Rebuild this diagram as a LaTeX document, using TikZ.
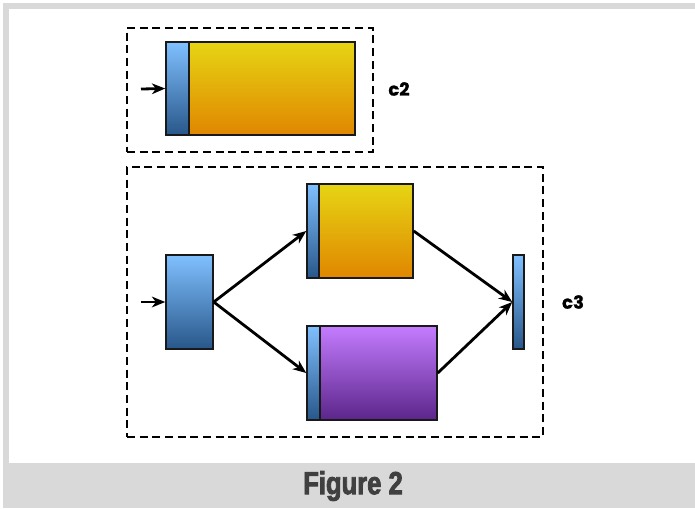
\documentclass[tikz,border=0pt]{standalone}
\usepackage{fontspec}
\setmainfont{Liberation Sans}
\newfontfamily\tagfont[FakeBold=1.2]{Poppins}
\newfontfamily\capfont[FakeStretch=0.8,FakeBold=2.5]{Liberation Sans}
\usetikzlibrary{arrows.meta, positioning, fit}
\definecolor{frame_gray}{HTML}{D9D9D9}
\definecolor{cap_text}{HTML}{404040}
\definecolor{blue_top}{HTML}{80C0FF}
\definecolor{blue_bot}{HTML}{28578A}
\definecolor{gold_top}{HTML}{E6D514}
\definecolor{gold_bot}{HTML}{E08600}
\definecolor{violet_top}{HTML}{C47CFF}
\definecolor{violet_bot}{HTML}{5B258A}
\tikzset{
    blk_blue/.style={
        rectangle, draw=black!90, line width=1.1pt, inner sep=0pt,
        top color=blue_top, bottom color=blue_bot
    },
    blk_gold/.style={
        rectangle, draw=black!90, line width=1.1pt, inner sep=0pt,
        top color=gold_top, bottom color=gold_bot
    },
    blk_violet/.style={
        rectangle, draw=black!90, line width=1.1pt, inner sep=0pt,
        top color=violet_top, bottom color=violet_bot
    },
    group_box/.style={
        rectangle, draw=black, line width=1pt, inner sep=0pt,
        dash pattern=on 6pt off 3.5pt
    },
    flow_arrow/.style={
        -{Stealth[length=10pt, width=8pt, inset=3pt]}, line width=2.1pt, draw=black
    },
    group_tag/.style={
        font=\tagfont\bfseries\fontsize{13.5}{16}\selectfont, text=black
    }
}
\begin{document}
\begin{tikzpicture}[x=0.75pt, y=-0.75pt]

    \useasboundingbox (0,0) rectangle (695,508);

    % --- Frame & caption band ---
    \fill[frame_gray] (3,3) rectangle (695,508);
    \fill[white] (9,9) rectangle (695,463);
    \node[text=cap_text, font=\capfont\bfseries\fontsize{24}{28}\selectfont] (caption) at (353,486) {Figure 2};

    % --- Group c2 ---
    \node[group_box, fit={(127,28) (373,152)}] (c2box) {};
    \node[group_tag] (c2tag) at (399,89) {c2};
    \node[blk_blue, fit={(166,42) (189,135)}] (c2in) {};
    \node[blk_gold, fit={(189,42) (355,135)}] (c2body) {};
    \coordinate (c2src) at (141,89);

    % --- Group c3 ---
    \node[group_box, fit={(127,167) (543,437)}] (c3box) {};
    \node[group_tag] (c3tag) at (573,302) {c3};
    \node[blk_blue, fit={(166,255) (213,349)}] (c3in) {};
    \node[blk_blue, fit={(307,184) (319,278)}] (c3up) {};
    \node[blk_gold, fit={(319,184) (413,278)}] (c3upbody) {};
    \node[blk_blue, fit={(307,326) (320,420)}] (c3lo) {};
    \node[blk_violet, fit={(320,326) (437,420)}] (c3lobody) {};
    \node[blk_blue, fit={(513,255) (524,349)}] (c3out) {};
    \coordinate (c3src) at (141,302);

    % --- Flow arrows ---
    \draw[flow_arrow] (c2src) -- (c2in.west);
    \draw[flow_arrow] (c3src) -- (c3in.west);
    \draw[flow_arrow] (c3in.east) -- (c3up.west);
    \draw[flow_arrow] (c3in.east) -- (c3lo.west);
    \draw[flow_arrow] (c3upbody.east) -- (c3out.west);
    \draw[flow_arrow] (c3lobody.east) -- (c3out.west);

\end{tikzpicture}
\end{document}
